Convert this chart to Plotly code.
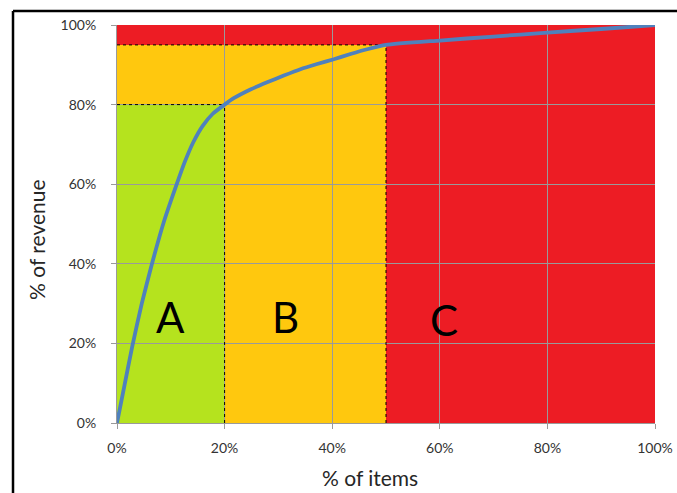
import plotly.graph_objects as go

# Cumulative share of revenue vs share of items (Pareto / ABC curve)
items_pct = [0, 1.4, 2.8, 4.6, 6.5, 8.7, 11.1, 12.6, 14.2, 15.9, 17.8, 20,
             21.7, 24.8, 27.9, 31.0, 34.1, 37.2, 40.3, 43.4, 46.5, 50,
             60, 70, 80, 90, 100]
revenue_pct = [0, 9.5, 19, 30, 40, 50.5, 60, 65.6, 70.6, 74.6, 77.7, 80,
               81.6, 83.8, 85.6, 87.3, 88.9, 90.2, 91.4, 92.7, 93.9, 95,
               96.1, 97.1, 98.1, 99.0, 100]

# Class boundaries: (items %, revenue %)
class_a_cut = (20, 80)
class_b_cut = (50, 95)

class_labels = ["A", "B", "C"]
class_label_x = [10, 31.3, 60.7]
class_label_y = [26.6, 26.6, 25.8]

tick_vals = [0, 20, 40, 60, 80, 100]
tick_text = ["0%", "20%", "40%", "60%", "80%", "100%"]

RED = "#ED1C24"
YELLOW = "#FFC80E"
GREEN = "#B5E31E"

fig = go.Figure()

fig.add_trace(go.Scatter(
    x=items_pct, y=revenue_pct, mode="lines",
    line=dict(color="#4F81BD", width=3.8, shape="spline", smoothing=0.5),
    hoverinfo="skip", showlegend=False,
))

shapes = [
    # zone fills
    dict(type="rect", xref="x", yref="y", x0=0, x1=100, y0=0, y1=100,
         fillcolor=RED, line_width=0, layer="below"),
    dict(type="rect", xref="x", yref="y", x0=0, x1=class_b_cut[0], y0=0, y1=class_b_cut[1],
         fillcolor=YELLOW, line_width=0, layer="below"),
    dict(type="rect", xref="x", yref="y", x0=0, x1=class_a_cut[0], y0=0, y1=class_a_cut[1],
         fillcolor=GREEN, line_width=0, layer="below"),
]
# dotted boundary guides
for cx, cy in (class_a_cut, class_b_cut):
    shapes.append(dict(type="line", xref="x", yref="y", x0=0, x1=cx, y0=cy, y1=cy,
                       line=dict(color="black", width=1, dash="dot"), layer="between"))
    shapes.append(dict(type="line", xref="x", yref="y", x0=cx, x1=cx, y0=0, y1=cy,
                       line=dict(color="black", width=1, dash="dot"), layer="between"))
# outer frame (top and left edges)
shapes.append(dict(type="line", xref="paper", yref="paper", x0=-0.1933, x1=1.06, y0=1.0352, y1=1.0352,
                   line=dict(color="black", width=2.5), layer="above"))
shapes.append(dict(type="line", xref="paper", yref="paper", x0=-0.1933, x1=-0.1933, y0=1.0352, y1=-0.2,
                   line=dict(color="black", width=2.5), layer="above"))

annotations = []
for lab, lx, ly in zip(class_labels, class_label_x, class_label_y):
    annotations.append(dict(x=lx, y=ly, xref="x", yref="y", text=lab, showarrow=False,
                            font=dict(family="Lato", size=42, color="black"),
                            xanchor="center", yanchor="middle"))
annotations.append(dict(x=0.470, y=-0.1357, xref="paper", yref="paper", text="% of items",
                        showarrow=False, font=dict(family="Lato", size=21, color="#262626"),
                        xanchor="center", yanchor="middle"))
annotations.append(dict(x=-0.1487, y=0.46, xref="paper", yref="paper", text="% of revenue",
                        showarrow=False, textangle=-90,
                        font=dict(family="Lato", size=21, color="#262626"),
                        xanchor="center", yanchor="middle"))

axis_common = dict(
    range=[0, 100], tickvals=tick_vals, ticktext=tick_text,
    showgrid=True, gridcolor="#9a9a9a", gridwidth=1,
    showline=True, linecolor="#9a9a9a", linewidth=1,
    ticks="outside", ticklen=5, tickcolor="#9a9a9a",
    tickfont=dict(family="Lato", size=14, color="#333333"),
    zeroline=False, fixedrange=True, automargin=False,
)

fig.update_layout(
    width=677, height=493,
    margin=dict(l=117, r=22, t=25, b=70),
    paper_bgcolor="white", plot_bgcolor="white",
    shapes=shapes, annotations=annotations,
    xaxis=dict(**axis_common, ticklabelstandoff=7),
    yaxis=dict(**axis_common, ticklabelstandoff=12),
    showlegend=False,
)

fig.write_html("out.html")
